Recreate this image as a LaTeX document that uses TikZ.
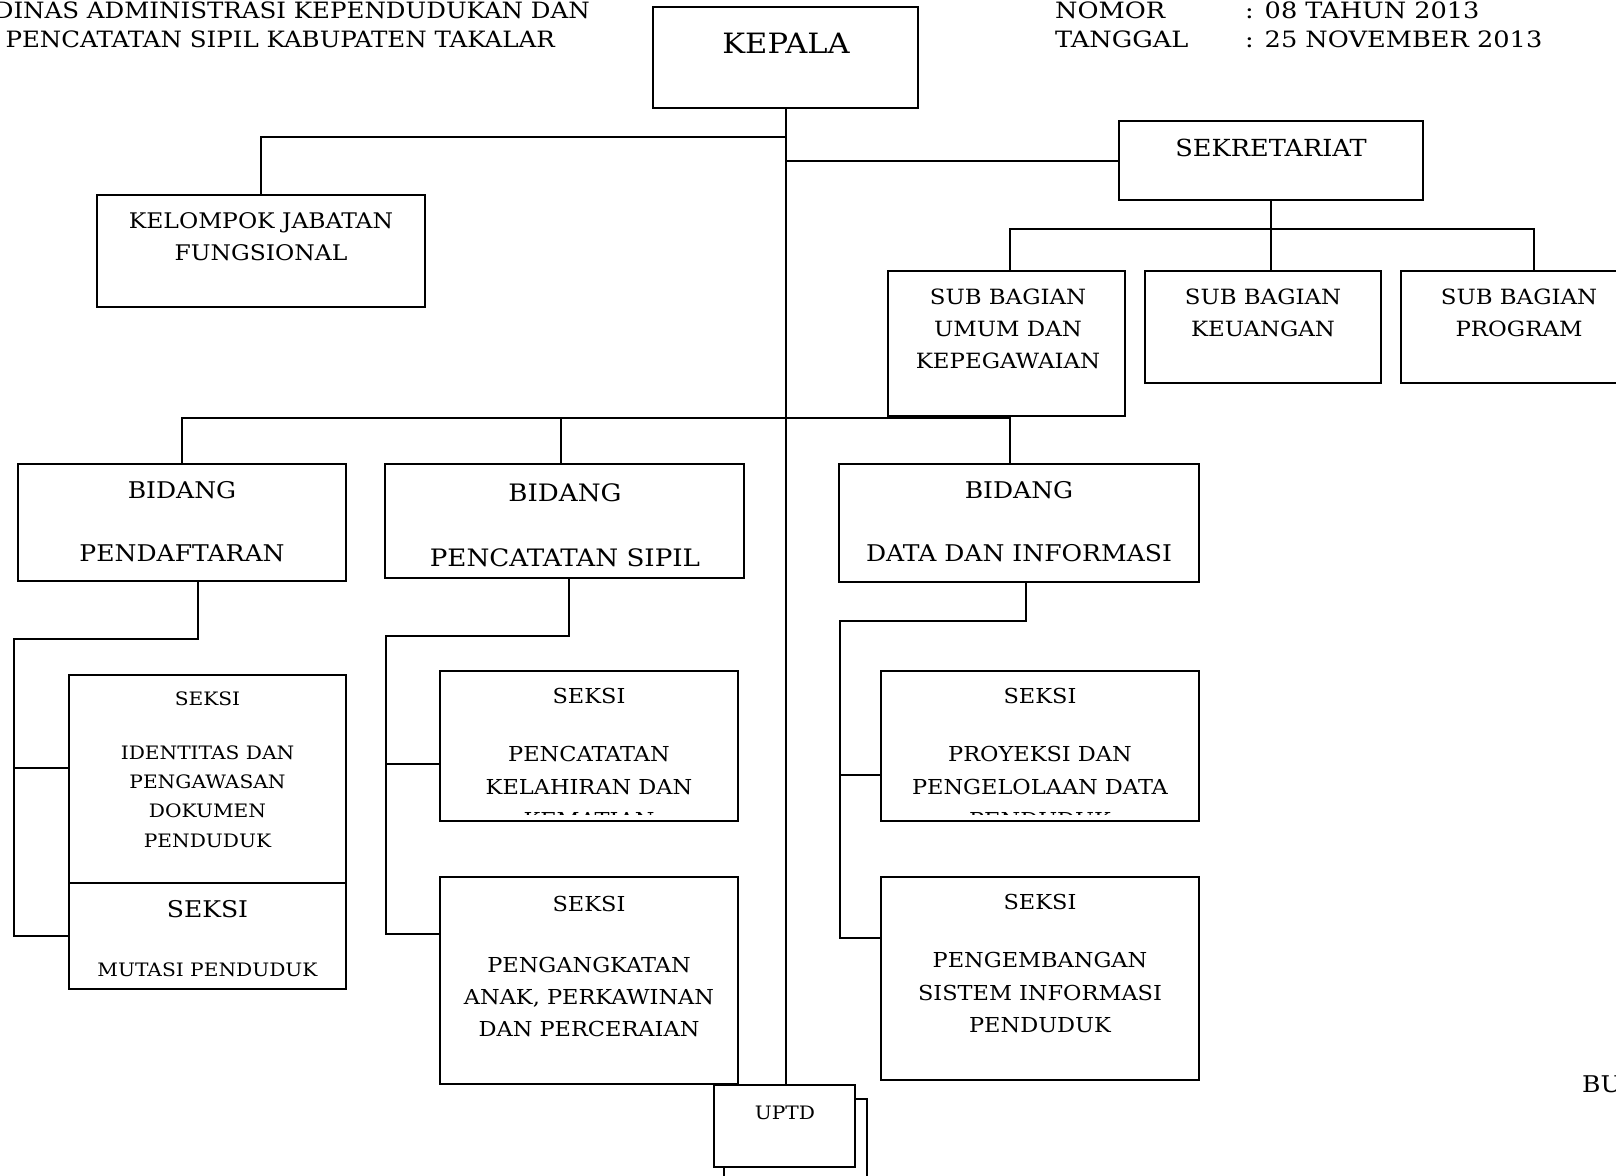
\documentclass[tikz,border=0pt]{standalone}
\usepackage{fontspec}
\setmainfont{DejaVu Serif}[FakeStretch=1.09]
\newfontfamily\headserif{DejaVu Serif}[FakeStretch=1.14]
\begin{document}
\begin{tikzpicture}[x=1pt,y=-1pt,
  box/.style={draw, line width=2pt, fill=white, inner sep=0pt, outer sep=0pt, anchor=north west},
  txt/.style={inner sep=0pt, outer sep=0pt, anchor=north, align=center},
  link/.style={line width=2pt},
  fHead/.style={inner sep=0pt, font=\headserif\fontsize{22.5}{28}\selectfont},
  fHeadL/.style={inner sep=0pt, font=\fontsize{22.5}{28}\selectfont},
  fTitle/.style={font=\fontsize{28}{32}\selectfont},
  fNorm/.style={font=\fontsize{21.5}{31.5}\selectfont},
  fSub/.style={font=\fontsize{21}{32}\selectfont},
  fBid/.style={font=\fontsize{23}{31.5}\selectfont},
  fBig/.style={font=\fontsize{24}{32.5}\selectfont},
  fSmall/.style={font=\fontsize{18.5}{29.3}\selectfont}]
\useasboundingbox (0,0) rectangle (1616,1175);
\clip (0,0) rectangle (1616,1175);

% rectangle from (x1,y1) to (x2,y2)
\newcommand\orgrect[5]{\node[box, minimum width=#4-#2, minimum height=#5-#3] (#1) at (#2,#3) {};}

% header
\node[fHeadL, anchor=base east] (head1) at (590,18.3) {DINAS ADMINISTRASI KEPENDUDUKAN DAN};
\node[fHeadL, anchor=base east] (head2) at (555,47.3) {PENCATATAN SIPIL KABUPATEN TAKALAR};
\node[fHead, anchor=base west] (nomor) at (1055,18.3) {NOMOR};
\node[fHead, anchor=base west] (nomorv) at (1245,18.3) {: 08 TAHUN 2013};
\node[fHead, anchor=base west] (tgl) at (1055,47.3) {TANGGAL};
\node[fHead, anchor=base west] (tglv) at (1245,47.3) {: 25 NOVEMBER 2013};

% boxes
\orgrect{kepala}{653}{7}{918}{108}
\orgrect{kelompok}{97}{195}{425}{307}
\orgrect{sekr}{1119}{121}{1423}{200}
\orgrect{umum}{888}{271}{1125}{416}
\orgrect{keuangan}{1145}{271}{1381}{383}
\orgrect{program}{1401}{271}{1637}{383}
\orgrect{pendaftaran}{18}{464}{346}{581}
\orgrect{pencatatan}{385}{464}{744}{578}
\orgrect{datainfo}{839}{464}{1199}{582}
\orgrect{identitas}{69}{675}{346}{883}
\orgrect{mutasi}{69}{883}{346}{989}
\orgrect{kelahiran}{440}{671}{738}{821}
\orgrect{angkat}{440}{877}{738}{1084}
\orgrect{proyeksi}{881}{671}{1199}{821}
\orgrect{kembang}{881}{877}{1199}{1080}
\orgrect{uptdback}{724}{1099}{867}{1200}
\orgrect{uptd}{714}{1085}{855}{1167}

% connectors
\coordinate (kbus) at (261,137);
\coordinate (sbus) at (1271,229);
\coordinate (bbus) at (785,418);
\coordinate (pdc) at (14,639);
\coordinate (pcc) at (386,636);
\coordinate (dic) at (840,621);

\draw[link] (kepala.south) -- (kepala.south |- uptd.north);
\draw[link] (kepala.south |- kbus) -| (kelompok.north);
\draw[link] (kepala.south |- sekr.west) -- (sekr.west);
\draw[link] (sekr.south) -- (sekr.south |- keuangan.north);
\draw[link] ([xshift=3]umum.north) |- (sbus) -| ([xshift=15]program.north);
\draw[link] (pendaftaran.north) |- (bbus) -| ([xshift=-9]datainfo.north);
\draw[link] ([xshift=-4]pencatatan.north) -- ([xshift=-4]pencatatan.north |- bbus);

\draw[link] ([xshift=16]pendaftaran.south) |- (pdc) |- (mutasi.west);
\draw[link] ([yshift=11]identitas.west) -- ([yshift=11]identitas.west -| pdc);
\draw[link] ([xshift=4.5]pencatatan.south) |- (pcc) |- ([yshift=46.5]angkat.west);
\draw[link] ([yshift=-18]kelahiran.west) -- ([yshift=-18]kelahiran.west -| pcc);
\draw[link] ([xshift=7]datainfo.south) |- (dic) |- ([yshift=40.5]kembang.west);
\draw[link] ([yshift=-29]proyeksi.west) -- ([yshift=-29]proyeksi.west -| dic);

% texts
\node[txt, fTitle] (kepala-t) at (786,33) {KEPALA};
\node[txt, fNorm] (kelompok-t) at (261,213) {KELOMPOK JABATAN\\FUNGSIONAL};
\node[txt, font=\fontsize{23.5}{28}\selectfont] (sekr-t) at (1271,139.5) {SEKRETARIAT};
\node[txt, fSub] (umum-t) at (1008,289) {SUB BAGIAN\\UMUM DAN\\KEPEGAWAIAN};
\node[txt, fSub] (keuangan-t) at (1263,289) {SUB BAGIAN\\KEUANGAN};
\node[txt, fSub] (program-t) at (1519,289) {SUB BAGIAN\\PROGRAM};
\node[txt, fBid] (pendaftaran-t) at (182,481.5) {BIDANG\\[31.5pt]PENDAFTARAN};
\node[txt, fBig] (pencatatan-t) at (565,484) {BIDANG\\[32.5pt]PENCATATAN SIPIL};
\node[txt, fBid] (datainfo-t) at (1019,481.5) {BIDANG\\[31.5pt]DATA DAN INFORMASI};
\node[txt, fSmall] (identitas-t) at (207.5,691.3) {SEKSI\\[25pt]IDENTITAS DAN\\PENGAWASAN\\DOKUMEN\\PENDUDUK};
\node[txt, font=\fontsize{23}{28}\selectfont] (mutasi-t1) at (207.5,900.6) {SEKSI};
\node[txt, fSmall] (mutasi-t2) at (207.5,962.3) {MUTASI PENDUDUK};
\begin{scope}
  \clip (440,671) rectangle (738,814);
  \node[txt, font=\fontsize{20.6}{33}\selectfont] (kelahiran-t) at (589,688.2) {SEKSI\\[25pt]PENCATATAN\\KELAHIRAN DAN\\KEMATIAN};
\end{scope}
\node[txt, font=\fontsize{20.6}{32}\selectfont] (angkat-t) at (589,896.2) {SEKSI\\[29pt]PENGANGKATAN\\ANAK, PERKAWINAN\\DAN PERCERAIAN};
\begin{scope}
  \clip (881,671) rectangle (1199,814);
  \node[txt, font=\fontsize{20.6}{33}\selectfont] (proyeksi-t) at (1040,688.2) {SEKSI\\[25pt]PROYEKSI DAN\\PENGELOLAAN DATA\\PENDUDUK};
\end{scope}
\node[txt, font=\fontsize{20.6}{32.5}\selectfont] (kembang-t) at (1040,894.2) {SEKSI\\[25.5pt]PENGEMBANGAN\\SISTEM INFORMASI\\PENDUDUK};
\node[txt, fSmall] (uptd-t) at (785,1106.3) {UPTD};
\node[fBid, inner sep=0pt, anchor=base west] (bu) at (1582,1092) {BU};
\end{tikzpicture}
\end{document}
